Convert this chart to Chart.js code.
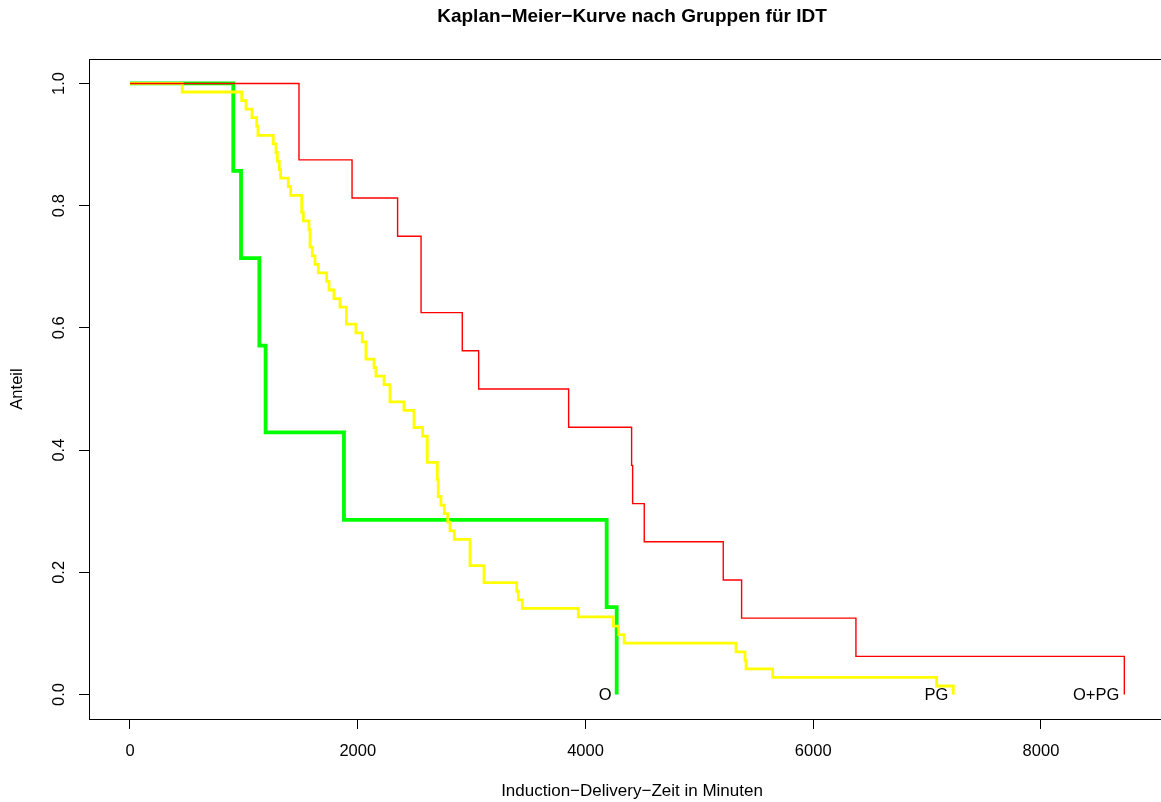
<!DOCTYPE html>
<html>
<head>
<meta charset="utf-8">
<script src="https://cdn.jsdelivr.net/npm/chart.js@4.4.1/dist/chart.umd.min.js"></script>
<style>
  html, body { margin: 0; padding: 0; background: #fff; overflow: hidden; }
  canvas { display: block; }
</style>
</head>
<body>
<canvas id="kmChart" width="1175" height="802"></canvas>
<script>
// Kaplan-Meier estimates, time in minutes -> share still undelivered
const opgTimes = [0, 1484, 1950, 2350, 2556, 2918, 3062, 3852, 4405, 4414, 4516, 5210, 5371, 6375, 8732];
const opgSurv  = [1, 0.875, 0.8125, 0.75, 0.625, 0.5625, 0.5, 0.4375, 0.375, 0.3125, 0.25, 0.1875, 0.125, 0.0625, 0];

const pgTimes = [0, 459, 981, 1019, 1071, 1113, 1124, 1258, 1282, 1294, 1311, 1323, 1390, 1411, 1508,
  1522, 1572, 1581, 1601, 1625, 1654, 1727, 1748, 1791, 1844, 1900, 1984, 2040, 2072, 2143, 2160,
  2231, 2283, 2406, 2494, 2570, 2611, 2699, 2707, 2731, 2760, 2790, 2810, 2848, 2986, 3109, 3396,
  3410, 3445, 3937, 4244, 4291, 4340, 5322, 5401, 5410, 5644, 7084, 7230];
const pgSurv = [1, 0.986, 0.972, 0.958, 0.944, 0.930, 0.915, 0.901, 0.887, 0.873, 0.859, 0.845, 0.831, 0.817, 0.789,
  0.775, 0.761, 0.732, 0.718, 0.704, 0.690, 0.676, 0.662, 0.648, 0.634, 0.606, 0.592, 0.577, 0.549, 0.535, 0.521,
  0.507, 0.479, 0.465, 0.437, 0.423, 0.380, 0.352, 0.324, 0.310, 0.296, 0.282, 0.268, 0.254, 0.211, 0.183, 0.169,
  0.155, 0.141, 0.127, 0.112, 0.098, 0.084, 0.070, 0.056, 0.042, 0.028, 0.014, 0];

const oTimes = [0, 907, 975, 1136, 1191, 1879, 4186, 4274];
const oSurv  = [1, 0.857, 0.714, 0.571, 0.429, 0.286, 0.143, 0];

const groupNames = ['O+PG', 'PG', 'O'];
const xTicks = [0, 2000, 4000, 6000, 8000];
const yTicks = [0, 0.2, 0.4, 0.6, 0.8, 1.0];

const FONT = '"Liberation Sans", Arial, Helvetica, sans-serif';
Chart.defaults.font.family = FONT;
Chart.defaults.color = '#000';

function pts(t, s) {
  return t.map((v, i) => ({ x: v, y: s[i] }));
}

// R-style box around the plot region
const boxPlugin = {
  id: 'plotBox',
  afterDraw(chart) {
    const { ctx, chartArea: a } = chart;
    ctx.save();
    ctx.strokeStyle = '#000';
    ctx.lineWidth = 1;
    ctx.strokeRect(Math.round(a.left) + 0.5, Math.round(a.top) + 0.5,
      Math.round(a.right - a.left), Math.round(a.bottom - a.top));
    ctx.restore();
  }
};

// group names written at the end of each curve
const endLabels = {
  id: 'endLabels',
  afterDatasetsDraw(chart) {
    const { ctx, scales } = chart;
    ctx.save();
    ctx.font = '16.5px ' + FONT;
    ctx.fillStyle = '#000';
    ctx.textAlign = 'right';
    ctx.textBaseline = 'middle';
    chart.data.datasets.forEach((ds) => {
      const last = ds.data[ds.data.length - 1];
      const x = scales.x.getPixelForValue(last.x) - 5;
      const y = scales.y.getPixelForValue(0) + 1;
      ctx.fillText(ds.label, x, y);
    });
    ctx.restore();
  }
};

new Chart(document.getElementById('kmChart'), {
  type: 'line',
  data: {
    datasets: [
      { label: groupNames[0], data: pts(opgTimes, opgSurv), borderColor: '#ff0000', borderWidth: 1.4 },
      { label: groupNames[1], data: pts(pgTimes, pgSurv), borderColor: '#ffff00', borderWidth: 2.8 },
      { label: groupNames[2], data: pts(oTimes, oSurv), borderColor: '#00ff00', borderWidth: 3.8 }
    ]
  },
  options: {
    responsive: false,
    animation: false,
    devicePixelRatio: 1,
    layout: { padding: { left: 0, right: 0, top: 0, bottom: 0 } },
    elements: {
      // survival stays at its level until the next event time
      line: { stepped: 'before', fill: false, tension: 0 },
      point: { radius: 0, hoverRadius: 0 }
    },
    plugins: {
      legend: { display: false },
      tooltip: { enabled: false },
      title: {
        display: true,
        fullSize: false,
        text: 'Kaplan\u2212Meier\u2212Kurve nach Gruppen für IDT',
        color: '#000',
        font: { size: 19, weight: 'bold', lineHeight: 1.2 },
        padding: { top: 5, bottom: 31.2 }
      }
    },
    scales: {
      x: {
        type: 'linear',
        min: -360,
        max: 9177,
        afterFit(scale) { scale.height = 83; },
        afterBuildTicks(scale) { scale.ticks = xTicks.map(v => ({ value: v })); },
        border: { display: false },
        grid: { drawOnChartArea: false, drawTicks: true, tickLength: 10, color: '#000', tickColor: '#000' },
        ticks: {
          font: { size: 16.5 },
          color: '#000',
          padding: 12.3,
          maxRotation: 0,
          minRotation: 0,
          callback: v => String(v)
        },
        title: {
          display: true,
          text: 'Induction\u2212Delivery\u2212Zeit in Minuten',
          font: { size: 17, lineHeight: 1.2 },
          color: '#000',
          padding: { top: 0, bottom: 0 }
        }
      },
      y: {
        type: 'linear',
        min: -0.04,
        max: 1.04,
        afterFit(scale) { scale.width = 89; },
        afterBuildTicks(scale) { scale.ticks = yTicks.map(v => ({ value: v })); },
        border: { display: false },
        grid: { drawOnChartArea: false, drawTicks: true, tickLength: 10, color: '#000', tickColor: '#000' },
        ticks: {
          font: { size: 16.5 },
          color: '#000',
          padding: 8.3,
          minRotation: 90,
          maxRotation: 90,
          crossAlign: 'center',
          callback: v => v.toFixed(1)
        },
        title: {
          display: true,
          text: 'Anteil',
          font: { size: 16.5, lineHeight: 1.2 },
          color: '#000',
          padding: { top: 8, bottom: 0 }
        }
      }
    }
  },
  plugins: [boxPlugin, endLabels]
});
</script>
</body>
</html>
